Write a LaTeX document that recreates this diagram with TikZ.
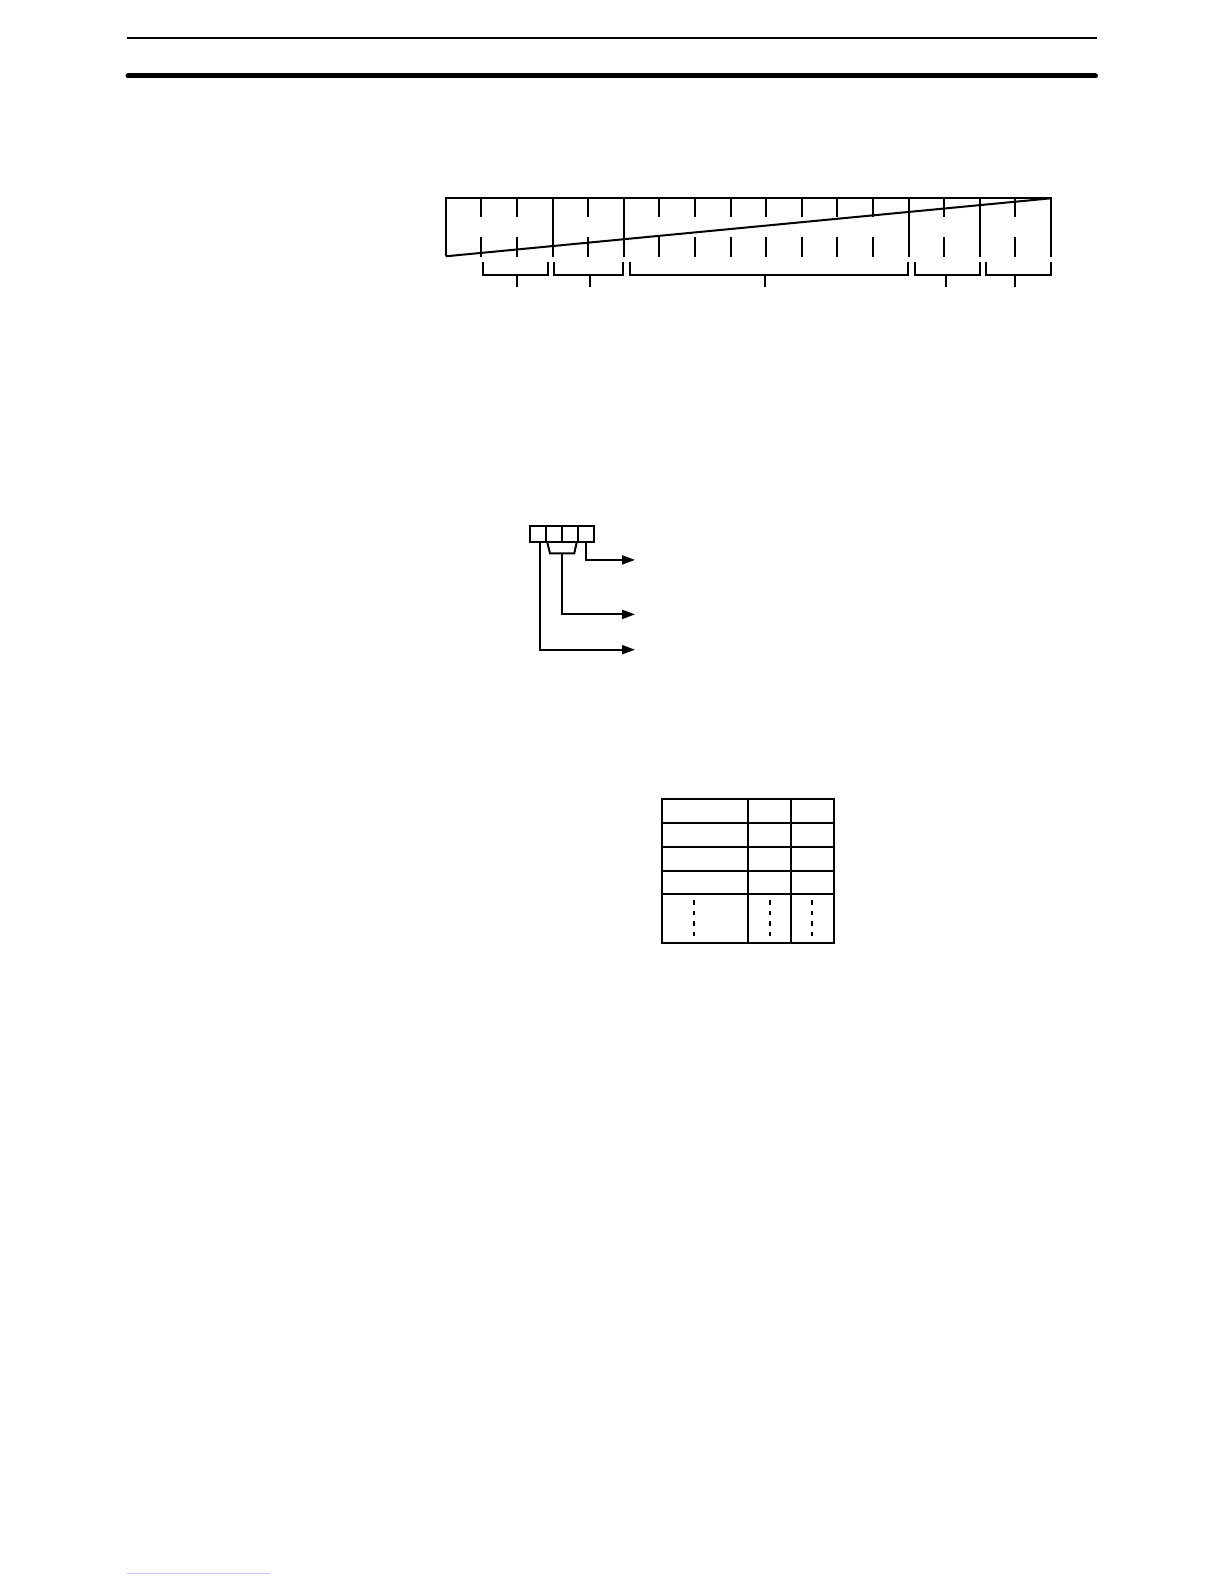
\documentclass[tikz,border=0pt]{standalone}
\usetikzlibrary{arrows.meta}
\begin{document}
\begin{tikzpicture}[x=0.5pt, y=-0.5pt, line width=1pt, >={Triangle[length=6.5pt,width=4.5pt]}]
	\useasboundingbox (0,0) rectangle (1224,1584);

	% page rules
	\draw[line width=0.85pt] (126.7,38) -- (1097,38);
	\draw[line width=2.5pt, line cap=round] (128,76) -- (1095.5,76);
	\draw[line width=0.6pt, blue!22] (126.7,1573.6) -- (270,1573.6);

	% bit field
	\draw (445.7,256.3) -- (445.7,198.3) -- (1051,198.3) -- (1051,256.7);
	\draw (445.7,256.3) -- (1051,198.3);
	\foreach \k in {3,5,13,15}
		\draw (445.7+35.6*\k,198.3) -- (445.7+35.6*\k,256.7);
	\foreach \k in {1,2,4,6,7,8,9,10,11,12,14,16} {
		\draw (445.7+35.6*\k,198.3) -- (445.7+35.6*\k,217.3);
		\draw (445.7+35.6*\k,236.7) -- (445.7+35.6*\k,256.7);
	}

	% brackets under the field
	\foreach \a/\b/\m in {482.7/548.3/517.3, 554/622.7/590, 629.5/908.3/765, 914.7/980/945.7, 986/1051/1015.3} {
		\draw (\a,261.7) -- (\a,275) -- (\b,275) -- (\b,261.7);
		\draw (\m,275) -- (\m,286.7);
	}

	% four digit code
	\draw (529.6,526) rectangle (594,542.3);
	\draw (545.7,526) -- (545.7,542.3);
	\draw (561.9,526) -- (561.9,542.3);
	\draw (578,526) -- (578,542.3);
	\draw (547.3,542.3) -- (550,553.3) -- (574.3,553.3) -- (576.7,542.3);

	\coordinate (digitA) at (539.7,542.3);
	\coordinate (digitBC) at (562.3,553.3);
	\coordinate (digitD) at (586,542.3);
	\coordinate (outD) at (635,559.9);
	\coordinate (outBC) at (635,614.4);
	\coordinate (outA) at (635,649.7);

	\draw[->] (digitD) |- (outD);
	\draw[->] (digitBC) |- (outBC);
	\draw[->] (digitA) |- (outA);

	% table
	\draw (661.9,799) rectangle (834,942.5);
	\foreach \y in {822.7,846.7,870.7,894}
		\draw (661.9,\y) -- (834,\y);
	\draw (747.7,799) -- (747.7,942.5);
	\draw (791.1,799) -- (791.1,942.5);
	\foreach \x in {694.2,769.9,812.3}
		\draw[dash pattern=on 2.25pt off 3pt] (\x,900) -- (\x,937.5);
\end{tikzpicture}
\end{document}
